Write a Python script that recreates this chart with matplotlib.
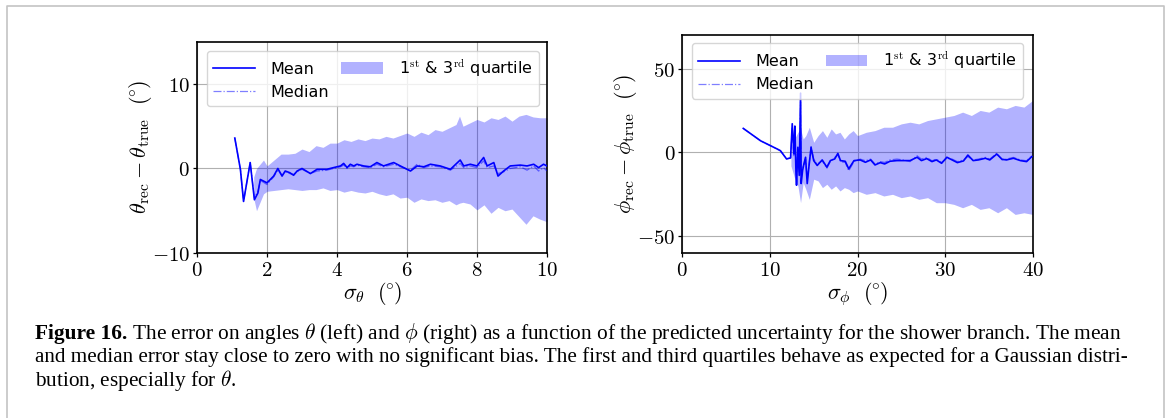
import matplotlib
matplotlib.use("Agg")
import matplotlib.pyplot as plt
from matplotlib.ticker import FuncFormatter, MultipleLocator
from matplotlib.lines import Line2D

# ---------------- data ----------------
th_mean_x = [1.08,1.24,1.33,1.52,1.64,1.74,1.81,2.0,2.19,2.31,2.43,2.52,2.65,2.76,2.86,3.0,3.24,3.43,3.71,3.9,
             4.1,4.19,4.29,4.38,4.48,4.57,4.76,4.95,5.14,5.33,5.62,5.81,6.1,6.29,6.48,6.67,6.95,7.24,7.52,7.62,
             7.81,8.0,8.19,8.29,8.48,8.6,8.76,8.95,9.24,9.43,9.62,9.76,9.9,10.0]
th_mean_y = [3.6,-0.1,-3.9,0.7,-3.7,-2.9,-1.3,-1.7,-0.9,0.0,-0.9,-0.3,-0.5,-0.8,-0.3,0.0,-0.6,-0.1,-0.1,0.1,
             0.3,0.6,0.1,0.5,0.3,0.5,0.3,0.2,0.7,0.3,0.7,0.3,-0.3,0.3,0.2,0.5,0.3,-0.1,1.0,0.3,
             0.5,0.3,1.3,0.3,0.7,-0.9,-0.3,0.3,0.4,0.3,0.5,0.1,0.5,0.3]
th_median_y = [3.6,-0.1,-3.9,0.7,-3.5,-2.7,-1.4,-1.9,-1.0,-0.2,-0.8,-0.4,-0.6,-0.7,-0.4,-0.1,-0.6,-0.3,-0.2,0.0,
               0.2,0.4,0.0,0.3,0.2,0.4,0.2,0.1,0.5,0.2,0.5,0.2,-0.2,0.5,0.1,0.3,0.2,-0.2,0.6,0.1,
               0.3,0.1,0.9,0.1,0.3,-0.6,-0.4,0.0,0.2,-0.2,0.3,-0.3,0.1,-0.3]
th_q_x = [1.62,1.7,1.8,1.9,2.0,2.2,2.4,2.6,2.8,3.0,3.2,3.4,3.6,3.8,4.0,4.2,4.4,4.6,4.8,5.0,
          5.2,5.4,5.6,5.8,6.0,6.2,6.4,6.6,6.8,7.0,7.2,7.4,7.5,7.6,7.8,8.0,8.2,8.4,8.6,8.8,
          9.0,9.2,9.4,9.6,9.8,10.0]
th_q1 = [-3.5,-5.0,-4.0,-3.0,-2.7,-2.6,-2.5,-2.4,-2.5,-2.6,-2.5,-2.5,-2.3,-2.6,-2.5,-2.8,-2.6,-2.8,-2.9,-2.7,
         -3.0,-3.2,-3.0,-3.5,-3.4,-4.0,-3.6,-3.8,-3.7,-4.0,-3.8,-4.3,-4.1,-4.0,-4.2,-4.9,-4.3,-5.3,-4.6,-5.0,
         -4.8,-5.7,-6.6,-5.6,-6.0,-6.3]
th_q3 = [-1.0,0.0,0.5,1.0,0.3,1.0,1.7,1.7,1.8,2.3,2.0,2.7,2.5,3.0,3.0,3.4,3.2,3.5,3.3,3.6,
         3.5,3.8,3.6,3.9,4.2,3.8,4.3,4.0,4.6,4.4,4.8,5.2,6.2,5.0,5.4,5.8,5.5,6.0,5.8,6.2,
         5.6,6.2,6.4,6.1,6.0,6.0]

ph_mean_x = [6.96,8.94,10.84,11.2,11.9,12.36,12.55,12.74,12.85,12.97,13.04,13.19,13.35,13.5,13.57,13.73,13.88,14.07,14.26,14.45,
             14.7,15.0,15.4,15.97,16.5,16.9,17.4,17.76,18.06,18.6,19.0,19.6,20.3,20.9,21.5,22.0,22.6,23.1,23.7,24.5,
             25.2,26.0,26.8,27.3,27.9,28.5,29.0,29.6,30.2,30.8,31.4,32.1,32.6,33.2,33.8,34.6,35.1,35.9,36.5,37.0,
             37.8,38.6,39.3,39.9]
ph_mean_y = [14.3,6.9,2.0,1.0,-3.9,-3.3,17.1,-1.0,15.7,-10.8,-19.6,2.9,-13.7,35.3,-18.6,-10.8,-6.9,-2.9,-18.6,-8.8,
             2.9,-4.9,-7.8,-4.5,-8.8,-4.9,-3.9,-0.6,-4.9,-5.3,-9.8,-4.9,-4.5,-5.9,-4.5,-7.5,-6.1,-6.9,-5.3,-4.9,
             -4.9,-4.9,-2.9,-4.9,-3.7,-5.5,-4.5,-6.5,-2.9,-4.5,-6.1,-5.1,-1.6,-4.9,-4.5,-3.5,-4.5,-1.0,-4.1,-4.5,
             -3.5,-4.9,-5.5,-2.5]
ph_median_y = [14.3,6.9,2.0,1.0,-3.9,-3.3,15.0,-2.0,14.0,-9.0,-18.0,4.0,-12.0,30.0,-16.0,-9.0,-8.0,-4.0,-16.0,-8.0,
               3.5,-4.0,-7.0,-5.0,-9.5,-5.5,-3.0,-1.5,-5.5,-6.0,-11.0,-5.5,-4.0,-5.0,-4.0,-7.0,-5.5,-6.0,-4.5,-4.0,
               -4.5,-5.5,-2.0,-4.0,-3.0,-5.0,-4.0,-6.0,-3.5,-4.0,-5.5,-4.5,-2.5,-4.5,-4.0,-3.0,-4.0,-0.5,-4.5,-4.0,
               -3.0,-4.5,-5.0,-2.0]
ph_q_x = [12.4,12.8,13.2,13.5,13.8,14.1,14.5,15.0,15.5,16.0,16.5,17.0,17.5,18.0,18.5,19.0,19.5,20.0,21.0,22.0,
          23.0,24.0,25.0,26.0,27.0,28.0,29.0,30.0,31.0,32.0,33.0,34.0,35.0,36.0,37.0,38.0,39.0,40.0]
ph_q3 = [2,8,12,14,8,10,15,6,10,13,9,14,11,12,8,11,13,10,12,13,
         15,15,17,18,17,19,20,21,22,24,22,25,24,27,26,28,27,31]
ph_q1 = [-8,-15,-20,-30,-18,-22,-28,-16,-17,-21,-19,-22,-20,-23,-21,-22,-24,-23,-25,-24,
         -26,-25,-27,-26,-28,-27,-30,-30,-31,-33,-31,-34,-33,-36,-33,-37,-36,-37]

caption_bold = "Figure 16."
caption_lines = [
    r" The error on angles $\theta$ (left) and $\phi$ (right) as a function of the predicted uncertainty for the shower branch. The mean",
    r"and median error stay close to zero with no significant bias. The first and third quartiles behave as expected for a Gaussian distri-",
    r"bution, especially for $\theta$.",
]

# ---------------- style ----------------
plt.rcParams['mathtext.fontset'] = 'cm'
plt.rcParams['font.family'] = ['DejaVu Sans']

W, H = 1168, 418
fig = plt.figure(figsize=(W / 100, H / 100), dpi=100)

def fx(px):
    return px / W

def fy(py):
    return 1 - py / H

ax1 = fig.add_axes([fx(197), fy(253), fx(547) - fx(197), fy(41.7) - fy(253)])
ax2 = fig.add_axes([fx(682.3), fy(253), fx(1032.7) - fx(682.3), fy(35) - fy(253)])

fmt = FuncFormatter(lambda v, p: r'$%g$' % v)

DEG = r'(\hspace{-0.07}{}^{\circ}\hspace{-0.07})'

def style(ax, xl, yl, xlim, ylim, xstep, ystep):
    ax.set_xlim(*xlim)
    ax.set_ylim(*ylim)
    ax.xaxis.set_major_locator(MultipleLocator(xstep))
    ax.yaxis.set_major_locator(MultipleLocator(ystep))
    ax.xaxis.set_major_formatter(fmt)
    ax.yaxis.set_major_formatter(fmt)
    ax.tick_params(labelsize=15, length=3, width=0.9, pad=2)
    ax.grid(True, color='#b0b0b0', linewidth=0.8)
    ax.set_axisbelow(True)
    for s in ax.spines.values():
        s.set_linewidth(1.2)
    ax.set_xlabel(xl, fontsize=16, labelpad=0)
    ax.set_ylabel(yl, fontsize=16, labelpad=-1.5)

def draw(ax, mx, my, mdy, qx, q1, q3):
    ax.plot(mx, my, color='#0000ff', lw=1.2, label='Mean', zorder=3)
    ax.plot(mx, mdy, color='#0000ff', lw=0.9, ls='-.', alpha=0.5, label='Median', zorder=3)
    ax.fill_between(qx, q1, q3, color='#0000ff', alpha=0.3, lw=0,
                    label=r'1$^{\mathrm{st}}$ & 3$^{\mathrm{rd}}$ quartile', zorder=2)

draw(ax1, th_mean_x, th_mean_y, th_median_y, th_q_x, th_q1, th_q3)
draw(ax2, ph_mean_x, ph_mean_y, ph_median_y, ph_q_x, ph_q1, ph_q3)

style(ax1, r'$\sigma_\theta\ \ ' + DEG + '$', r'$\theta_{\rm rec} - \theta_{\rm true}\ \ ' + DEG + '$',
      (0, 10), (-10, 15), 2, 10)
style(ax2, r'$\sigma_\phi\ \ ' + DEG + '$', r'$\phi_{\rm rec} - \phi_{\rm true}\ \ ' + DEG + '$',
      (0, 40), (-60, 70), 10, 50)

for ax, (l, r, t) in ((ax1, (206.7, 539, 50.7)), (ax2, (691.7, 1023.3, 43.3))):
    bb = ax.get_position()
    x0 = (fx(l) - bb.x0) / bb.width
    x1 = (fx(r) - bb.x0) / bb.width
    y1 = (fy(t) - bb.y0) / bb.height
    ax.legend(ncol=2, loc='upper left', mode='expand',
              bbox_to_anchor=(x0, y1 - 0.3, x1 - x0, 0.3), borderaxespad=0,
              fontsize=11.5, handlelength=2.6, handletextpad=1.0, framealpha=0.8)

# ---------------- frame and caption ----------------
fig.add_artist(Line2D([fx(7.3), fx(7.3), fx(1163.7), fx(1163.7)],
                      [fy(420), fy(6.3), fy(6.3), fy(420)],
                      color='#c4c4c4', lw=1.2, transform=fig.transFigure))

renderer = fig.canvas.get_renderer()
base_fs = 13.0
serif = ['Liberation Serif', 'DejaVu Serif']

def width_of(t):
    return t.get_window_extent(renderer=renderer).width

tb = fig.text(fx(35), fy(339), caption_bold, fontsize=base_fs, fontweight='bold',
              family=serif, va='baseline', ha='left')
wb = width_of(tb)
t1 = fig.text(fx(35 + wb), fy(339), caption_lines[0], fontsize=base_fs, family=serif,
              va='baseline', ha='left')
w1 = width_of(t1)
fs1 = base_fs * (1120 - 35) / (wb + w1)
tb.set_fontsize(fs1)
wb = width_of(tb)
t1.set_fontsize(fs1)
t1.set_x(fx(35 + wb))

t2 = fig.text(fx(35), fy(362), caption_lines[1], fontsize=base_fs, family=serif,
              va='baseline', ha='left')
w2 = width_of(t2)
fs2 = base_fs * (1126 - 35) / w2
t2.set_fontsize(fs2)

t3 = fig.text(fx(35), fy(386), caption_lines[2], fontsize=(fs1 + fs2) / 2, family=serif,
              va='baseline', ha='left')

fig.savefig('out.png', dpi=100)
